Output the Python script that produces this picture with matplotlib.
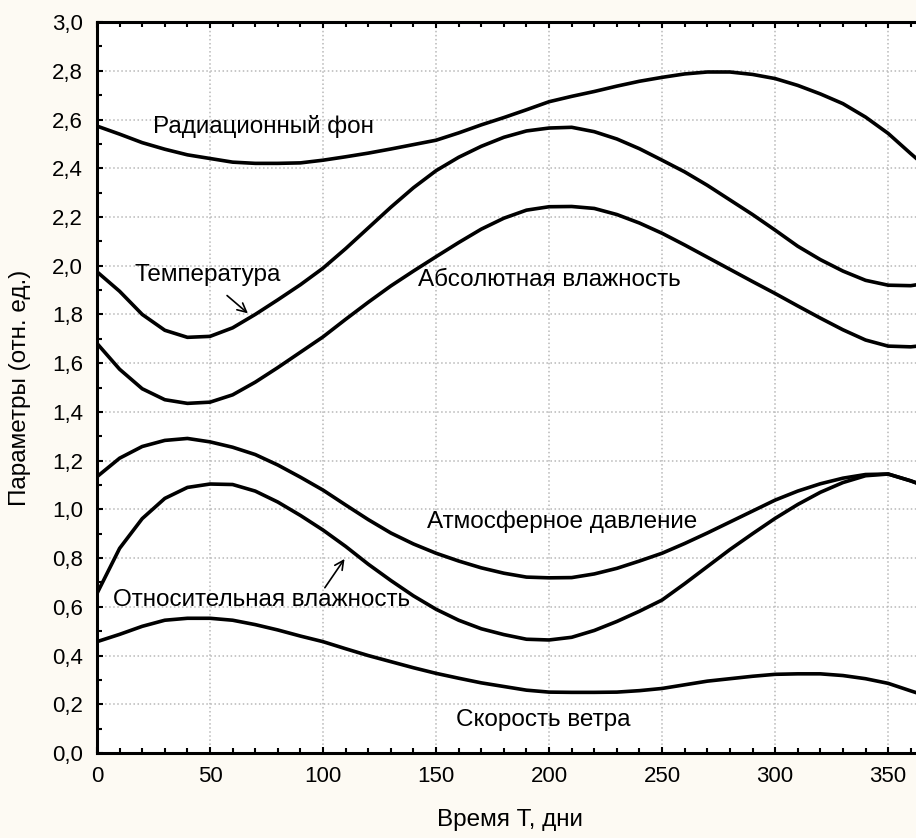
import matplotlib
matplotlib.use("Agg")
import matplotlib.pyplot as plt
from matplotlib.ticker import MultipleLocator, FuncFormatter

plt.rcParams['font.family'] = ['Liberation Sans', 'DejaVu Sans']

# days of the year
days = [0, 10, 20, 30, 40, 50, 60, 70, 80, 90, 100, 110, 120, 130, 140, 150, 160, 170, 180,
        190, 200, 210, 220, 230, 240, 250, 260, 270, 280, 290, 300, 310, 320, 330, 340, 350,
        360, 365]

radiation = [2.573, 2.54, 2.505, 2.478, 2.455, 2.44, 2.425, 2.42, 2.42, 2.422, 2.433, 2.447,
             2.462, 2.479, 2.497, 2.515, 2.545, 2.578, 2.608, 2.64, 2.673, 2.695, 2.715, 2.737,
             2.757, 2.773, 2.787, 2.795, 2.795, 2.785, 2.768, 2.74, 2.705, 2.665, 2.61, 2.543,
             2.46, 2.42]

temperature = [1.975, 1.895, 1.80, 1.735, 1.706, 1.71, 1.745, 1.80, 1.86, 1.922, 1.99, 2.07,
               2.155, 2.24, 2.32, 2.39, 2.445, 2.49, 2.527, 2.553, 2.565, 2.568, 2.55, 2.52,
               2.48, 2.433, 2.385, 2.33, 2.27, 2.21, 2.146, 2.08, 2.025, 1.978, 1.94, 1.92,
               1.918, 1.925]

abs_humidity = [1.681, 1.575, 1.495, 1.45, 1.435, 1.44, 1.47, 1.522, 1.582, 1.645, 1.708, 1.78,
                1.85, 1.917, 1.978, 2.037, 2.095, 2.15, 2.195, 2.228, 2.242, 2.243, 2.235, 2.21,
                2.175, 2.133, 2.085, 2.035, 1.985, 1.935, 1.886, 1.835, 1.785, 1.737, 1.695,
                1.67, 1.667, 1.672]

pressure = [1.134, 1.21, 1.258, 1.283, 1.291, 1.277, 1.255, 1.225, 1.182, 1.132, 1.079, 1.018,
            0.958, 0.903, 0.858, 0.82, 0.788, 0.76, 0.738, 0.722, 0.719, 0.72, 0.735, 0.758,
            0.788, 0.82, 0.86, 0.903, 0.948, 0.993, 1.038, 1.075, 1.105, 1.128, 1.143, 1.145,
            1.117, 1.10]

rel_humidity = [0.655, 0.84, 0.962, 1.045, 1.09, 1.104, 1.102, 1.075, 1.03, 0.975, 0.915, 0.848,
                0.775, 0.708, 0.645, 0.59, 0.545, 0.51, 0.486, 0.467, 0.464, 0.475, 0.503, 0.54,
                0.582, 0.628, 0.695, 0.765, 0.835, 0.90, 0.963, 1.02, 1.07, 1.11, 1.138, 1.145,
                1.117, 1.10]

wind = [0.457, 0.487, 0.52, 0.545, 0.553, 0.553, 0.545, 0.527, 0.505, 0.48, 0.457, 0.428, 0.40,
        0.375, 0.35, 0.327, 0.307, 0.288, 0.273, 0.258, 0.25, 0.249, 0.249, 0.25, 0.256, 0.265,
        0.28, 0.295, 0.305, 0.315, 0.323, 0.325, 0.325, 0.318, 0.305, 0.286, 0.255, 0.24]

fig = plt.figure(figsize=(9.16, 8.38), dpi=100, facecolor='#fdfaf3')
ax = fig.add_axes([0.1059, 0.1014, 0.9007, 0.8723])
ax.set_facecolor('white')

for series in [radiation, temperature, abs_humidity, pressure, rel_humidity, wind]:
    ax.plot(days, series, color='black', lw=2.6, solid_joinstyle='round', zorder=3)

ax.set_xlim(0, 365)
ax.set_ylim(0, 3.0)
ax.xaxis.set_major_locator(MultipleLocator(50))
ax.xaxis.set_minor_locator(MultipleLocator(10))
ax.yaxis.set_major_locator(MultipleLocator(0.2))
ax.yaxis.set_minor_locator(MultipleLocator(0.1))
ax.yaxis.set_major_formatter(FuncFormatter(lambda v, p: f"{v:.1f}".replace('.', ',')))
ax.xaxis.set_major_formatter(FuncFormatter(lambda v, p: f"{v:.0f}"))

ax.grid(True, which='major', color='#b8b8b8', linestyle=':', lw=1.1)
ax.tick_params(which='both', direction='in', top=True, right=True, width=1.5, color='black')
ax.tick_params(which='major', length=4, labelsize=16)
ax.tick_params(which='minor', length=3.5)
ax.tick_params(axis='y', pad=10)
ax.tick_params(axis='x', pad=9)
for s in ax.spines.values():
    s.set_linewidth(2.2)

ax.set_xlabel('Время Т, дни', fontsize=17.5, va='center')
ax.xaxis.set_label_coords(0.5, -0.092)
ax.set_ylabel('Параметры (отн. ед.)', fontsize=17.5, va='center')
ax.yaxis.set_label_coords(-0.093, 0.5)

# curve captions
fs = 17.5
ax.text(24.8, 2.57, 'Радиационный фон', fontsize=fs, va='center')
ax.text(16.8, 1.96, 'Температура', fontsize=fs, va='center')
ax.text(142, 1.94, 'Абсолютная влажность', fontsize=fs, va='center')
ax.text(146, 0.95, 'Атмосферное давление', fontsize=fs, va='center')
ax.text(7.2, 0.628, 'Относительная влажность', fontsize=fs, va='center')
ax.text(159, 0.135, 'Скорость ветра', fontsize=fs, va='center')

ax.annotate('', xy=(67.7, 1.797), xytext=(56.6, 1.885),
            arrowprops=dict(arrowstyle='->', color='black', lw=1.2, mutation_scale=16))
ax.annotate('', xy=(110.2, 0.806), xytext=(100.1, 0.669),
            arrowprops=dict(arrowstyle='->', color='black', lw=1.2, mutation_scale=16))

fig.savefig('out.png', dpi=100, facecolor=fig.get_facecolor())
